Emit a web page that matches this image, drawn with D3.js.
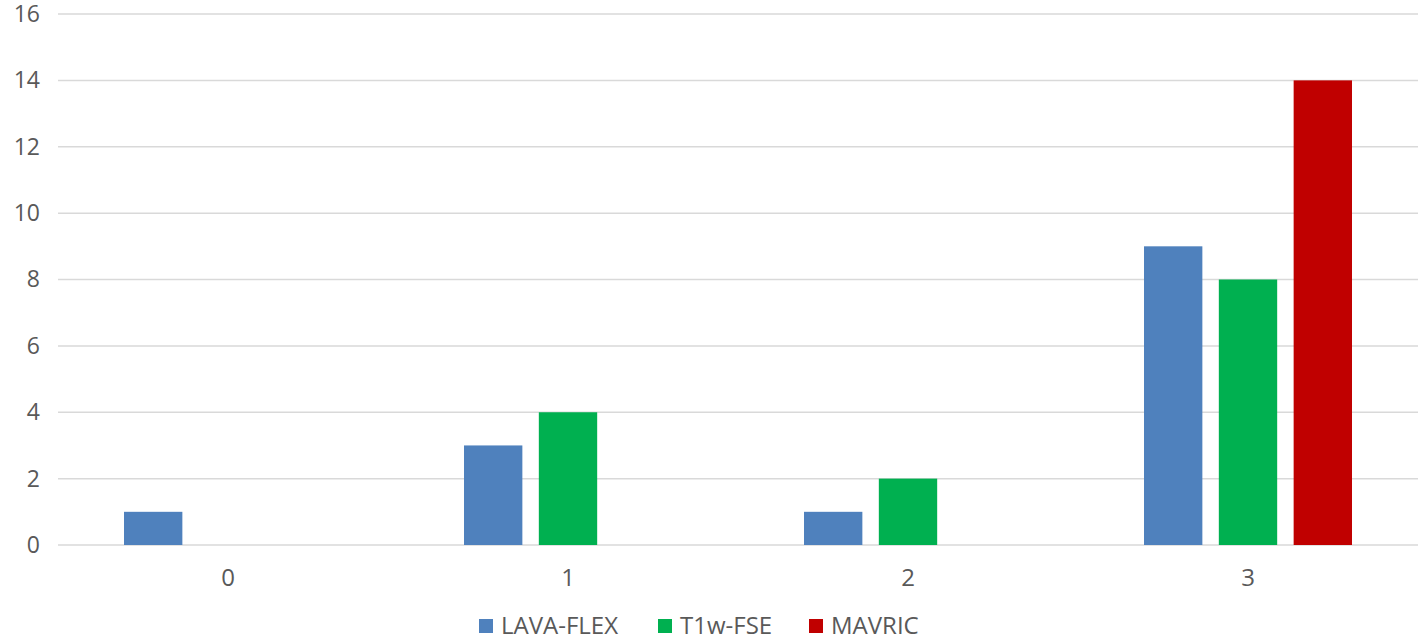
<!DOCTYPE html>
<html>
<head>
<meta charset="utf-8">
<script src="https://cdn.jsdelivr.net/npm/d3@7"></script>
<style>
  body { margin: 0; background: #fff; }
  svg { display: block; font-family: "Open Sans", "Liberation Sans", sans-serif; }
</style>
</head>
<body>
<div id="chart"></div>
<script>
// chart data
var categories = ["0", "1", "2", "3"];
var seriesNames = ["LAVA-FLEX", "T1w-FSE", "MAVRIC"];
var lavaFlex = [1, 3, 1, 9];
var t1wFse = [0, 4, 2, 8];
var mavric = [0, 0, 0, 14];
var yTicks = [0, 2, 4, 6, 8, 10, 12, 14, 16];
var colors = ["#4f81bd", "#00b050", "#c00000"];

var W = 1418, H = 638;
var plotLeft = 58, plotRight = 1418, plotTop = 14, plotBottom = 545;

var svg = d3.select("#chart").append("svg")
    .attr("width", W).attr("height", H);

var x = d3.scaleBand().domain(categories).range([plotLeft, plotRight]).padding(0);
var x1 = d3.scaleBand().domain(seriesNames).range([66, 274]).paddingInner(0.22);
var y = d3.scaleLinear().domain([0, 16]).range([plotBottom, plotTop]);
var color = d3.scaleOrdinal().domain(seriesNames).range(colors);

// gridlines
svg.append("g").selectAll("line").data(yTicks).enter().append("line")
    .attr("x1", plotLeft).attr("x2", plotRight)
    .attr("y1", function (d) { return y(d); })
    .attr("y2", function (d) { return y(d); })
    .attr("stroke", "#d9d9d9").attr("stroke-width", 1.5);

// y axis labels
var yAxis = svg.append("g")
    .attr("transform", "translate(40,0)")
    .call(d3.axisLeft(y).tickValues(yTicks).tickSize(0).tickPadding(0));
yAxis.select(".domain").remove();
yAxis.selectAll("text")
    .attr("fill", "#595959").style("font-size", "23px")
    .style("font-family", "'Open Sans', 'Liberation Sans', sans-serif");

// x axis labels
var xAxis = svg.append("g")
    .attr("transform", "translate(0," + plotBottom + ")")
    .call(d3.axisBottom(x).tickSize(0).tickPadding(24));
xAxis.select(".domain").remove();
xAxis.selectAll("text")
    .attr("fill", "#595959").style("font-size", "24px")
    .style("font-family", "'Open Sans', 'Liberation Sans', sans-serif");

// bars
var table = categories.map(function (c, i) {
  return { cat: c, values: [
    { name: seriesNames[0], value: lavaFlex[i] },
    { name: seriesNames[1], value: t1wFse[i] },
    { name: seriesNames[2], value: mavric[i] }
  ] };
});

var groups = svg.append("g").selectAll("g").data(table).enter().append("g")
    .attr("transform", function (d) { return "translate(" + x(d.cat) + ",0)"; });

groups.selectAll("rect")
    .data(function (d) { return d.values.filter(function (v) { return v.value > 0; }); })
    .enter().append("rect")
    .attr("x", function (d) { return x1(d.name); })
    .attr("width", x1.bandwidth())
    .attr("y", function (d) { return y(d.value); })
    .attr("height", function (d) { return y(0) - y(d.value); })
    .attr("fill", function (d) { return color(d.name); });

// legend
var legendX = [479, 658, 809];
var legend = svg.append("g").selectAll("g").data(seriesNames).enter().append("g")
    .attr("transform", function (d, i) { return "translate(" + legendX[i] + ",619)"; });
legend.append("rect")
    .attr("width", 14).attr("height", 14)
    .attr("fill", function (d) { return color(d); });
legend.append("text")
    .attr("x", 22).attr("y", 7).attr("dy", "0.35em")
    .attr("fill", "#595959").style("font-size", "24px")
    .text(function (d) { return d; });
</script>
</body>
</html>
